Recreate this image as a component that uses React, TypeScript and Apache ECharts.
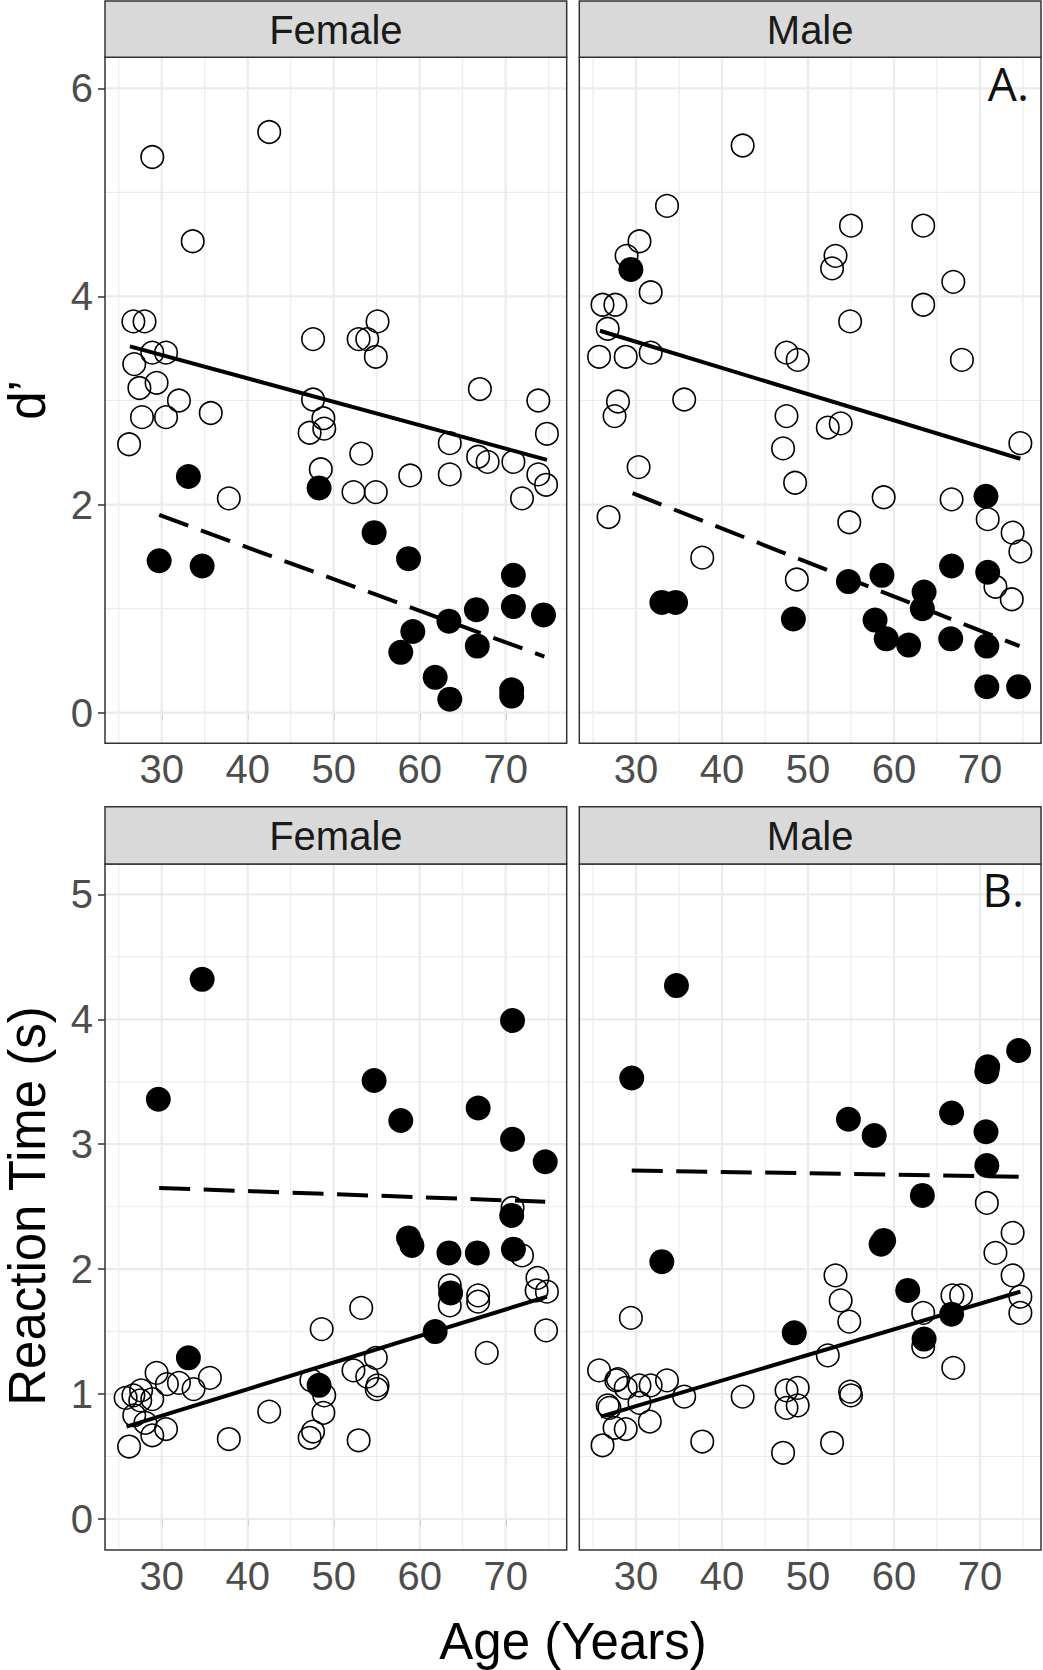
import React, { useEffect, useRef } from "react";
import * as echarts from "echarts";

// ---------- axes ----------
const ageTicks = [30, 40, 50, 60, 70];
const ageMinorGrid = [25, 35, 45, 55, 65, 75];
const ageRange = [23.4, 77.1];
const dPrimeTicks = [0, 2, 4, 6];
const dPrimeMinorGrid = [1, 3, 5];
const dPrimeRange = [-0.294, 6.298];
const rtTicks = [0, 1, 2, 3, 4, 5];
const rtMinorGrid = [0.5, 1.5, 2.5, 3.5, 4.5];
const rtRange = [-0.248, 5.243];
const panelTitles = ["Female", "Male"];

// ---------- Female d' ----------
const femaleDOpenAge = [28.9, 42.5, 33.6, 26.7, 28.0, 47.6, 52.9, 53.9, 55.1, 54.9, 28.9, 30.5, 26.8, 29.4, 27.4, 67.0, 32.0, 27.7, 30.5, 35.7, 26.2, 47.6, 48.8, 47.2, 48.9, 48.5, 53.2, 52.3, 54.9, 58.9, 37.8, 73.8, 74.8, 63.5, 63.5, 66.8, 67.9, 70.9, 73.8, 74.7, 71.9];
const femaleDOpenVal = [5.34, 5.58, 4.53, 3.76, 3.76, 3.59, 3.59, 3.59, 3.76, 3.42, 3.46, 3.46, 3.35, 3.17, 3.12, 3.11, 3.0, 2.84, 2.84, 2.88, 2.58, 3.01, 2.83, 2.69, 2.73, 2.34, 2.49, 2.12, 2.12, 2.28, 2.06, 3.0, 2.68, 2.59, 2.29, 2.46, 2.41, 2.41, 2.29, 2.19, 2.06];
const femaleDFilledAge = [33.1, 48.3, 29.7, 34.7, 54.7, 58.7, 70.9, 66.6, 70.9, 74.4, 63.4, 59.2, 57.8, 66.7, 61.8, 63.5, 70.7, 70.7];
const femaleDFilledVal = [2.27, 2.16, 1.46, 1.41, 1.73, 1.48, 1.32, 0.99, 1.02, 0.94, 0.88, 0.78, 0.58, 0.64, 0.34, 0.13, 0.22, 0.16];
const femaleDSolidFit = [[26.3, 3.52], [74.8, 2.43]];
const femaleDDashedFit = [[29.7, 1.9], [74.5, 0.54]];

// ---------- Male d' ----------
const maleDOpenAge = [42.4, 33.6, 30.4, 28.9, 31.7, 26.1, 27.6, 26.7, 25.7, 28.8, 31.7, 55.0, 63.4, 53.2, 52.8, 66.9, 63.4, 54.9, 47.5, 48.8, 67.9, 27.9, 27.5, 35.6, 47.5, 52.3, 53.8, 47.1, 48.5, 74.7, 30.3, 26.8, 37.7, 58.8, 66.7, 54.8, 70.9, 73.8, 74.7, 48.7, 71.8, 73.7];
const maleDOpenVal = [5.45, 4.87, 4.53, 4.39, 4.04, 3.92, 3.92, 3.69, 3.42, 3.42, 3.46, 4.68, 4.68, 4.39, 4.27, 4.14, 3.92, 3.76, 3.46, 3.39, 3.39, 2.99, 2.85, 3.01, 2.85, 2.74, 2.78, 2.54, 2.21, 2.59, 2.36, 1.88, 1.49, 2.07, 2.05, 1.83, 1.86, 1.73, 1.55, 1.28, 1.21, 1.09];
const maleDFilledAge = [29.4, 70.7, 33.0, 34.6, 48.3, 54.7, 58.6, 66.7, 70.9, 63.5, 63.3, 57.8, 59.1, 61.7, 66.6, 70.8, 70.8, 74.5];
const maleDFilledVal = [4.26, 2.08, 1.06, 1.06, 0.9, 1.26, 1.32, 1.41, 1.35, 1.16, 1.0, 0.89, 0.71, 0.65, 0.71, 0.64, 0.25, 0.25];
const maleDSolidFit = [[25.8, 3.67], [74.7, 2.44]];
const maleDDashedFit = [[29.6, 2.11], [74.6, 0.64]];

// ---------- Female reaction time ----------
const femaleRtOpenAge = [70.8, 71.9, 73.7, 74.8, 73.6, 74.7, 63.5, 63.5, 66.8, 66.8, 67.8, 53.2, 48.6, 54.9, 52.3, 53.9, 55.1, 55.0, 47.4, 48.9, 48.8, 47.6, 47.2, 52.9, 42.5, 37.8, 26.2, 30.5, 28.9, 28.1, 26.8, 25.8, 26.7, 27.6, 27.5, 28.9, 29.4, 30.6, 32.0, 33.7, 35.6];
const femaleRtOpenVal = [2.49, 2.11, 1.93, 1.82, 1.83, 1.51, 1.87, 1.71, 1.79, 1.74, 1.33, 1.69, 1.52, 1.29, 1.19, 1.14, 1.07, 1.04, 1.11, 0.99, 0.85, 0.7, 0.65, 0.63, 0.86, 0.64, 0.58, 0.72, 0.67, 0.77, 0.83, 0.97, 0.99, 1.03, 0.95, 0.96, 1.17, 1.08, 1.09, 1.04, 1.13];
const femaleRtFilledAge = [34.7, 29.6, 54.7, 57.8, 66.8, 70.8, 70.8, 74.6, 70.7, 58.7, 59.1, 63.4, 66.7, 70.9, 63.6, 61.8, 33.1, 48.3];
const femaleRtFilledVal = [4.32, 3.36, 3.51, 3.19, 3.29, 3.99, 3.04, 2.86, 2.43, 2.25, 2.19, 2.13, 2.13, 2.16, 1.81, 1.5, 1.29, 1.07];
const femaleRtSolidFit = [[25.9, 0.74], [74.8, 1.78]];
const femaleRtDashedFit = [[29.7, 2.65], [74.6, 2.54]];

// ---------- Male reaction time ----------
const maleRtOpenAge = [70.8, 73.8, 71.8, 73.8, 74.7, 74.7, 66.8, 67.8, 63.4, 63.4, 66.9, 53.2, 53.8, 54.8, 52.3, 48.4, 54.9, 55.0, 47.5, 48.8, 47.5, 48.8, 47.1, 52.8, 42.4, 37.7, 29.4, 25.7, 27.7, 27.9, 28.8, 30.4, 31.7, 33.6, 35.6, 26.7, 26.9, 30.4, 27.5, 28.8, 31.6, 26.1];
const maleRtOpenVal = [2.53, 2.29, 2.13, 1.95, 1.78, 1.65, 1.79, 1.79, 1.65, 1.38, 1.21, 1.95, 1.75, 1.58, 1.31, 1.49, 1.02, 0.99, 1.03, 1.05, 0.89, 0.91, 0.53, 0.61, 0.98, 0.62, 1.61, 1.19, 1.11, 1.12, 1.05, 1.07, 1.07, 1.11, 0.98, 0.91, 0.89, 0.93, 0.73, 0.72, 0.78, 0.59];
const maleRtFilledAge = [34.7, 29.5, 54.7, 57.7, 66.7, 70.9, 70.8, 74.5, 70.7, 70.8, 63.3, 58.8, 58.5, 61.6, 66.7, 63.5, 48.4, 33.0];
const maleRtFilledVal = [4.27, 3.53, 3.2, 3.07, 3.25, 3.62, 3.58, 3.75, 3.1, 2.83, 2.59, 2.23, 2.2, 1.83, 1.64, 1.44, 1.49, 2.06];
const maleRtSolidFit = [[25.9, 0.82], [74.7, 1.82]];
const maleRtDashedFit = [[29.5, 2.79], [74.5, 2.74]];

// ---------- layout ----------
const FONT = '"Liberation Sans", Arial, Helvetica, sans-serif';
const GRID_W = 461.7;
const GRID_H = 686;
const LEFT_X = [105, 579.3];
const TOP_Y = [57.3, 864];
const STRIP_TOP = [1, 806.7];

const zip = (a: number[], b: number[]) => a.map((v, i) => [v, b[i]]);

function gridLineData(xs: number[], ys: number[], xr: number[], yr: number[]) {
  const out: any[] = [];
  xs.forEach((x) => {
    out.push([x, yr[0]], [x, yr[1]], [null, null]);
  });
  ys.forEach((y) => {
    out.push([xr[0], y], [xr[1], y], [null, null]);
  });
  return out;
}

function buildOption() {
  const panels = [
    { open: zip(femaleDOpenAge, femaleDOpenVal), filled: zip(femaleDFilledAge, femaleDFilledVal), solid: femaleDSolidFit, dashed: femaleDDashedFit, yr: dPrimeRange, yt: dPrimeTicks, ym: dPrimeMinorGrid },
    { open: zip(maleDOpenAge, maleDOpenVal), filled: zip(maleDFilledAge, maleDFilledVal), solid: maleDSolidFit, dashed: maleDDashedFit, yr: dPrimeRange, yt: dPrimeTicks, ym: dPrimeMinorGrid },
    { open: zip(femaleRtOpenAge, femaleRtOpenVal), filled: zip(femaleRtFilledAge, femaleRtFilledVal), solid: femaleRtSolidFit, dashed: femaleRtDashedFit, yr: rtRange, yt: rtTicks, ym: rtMinorGrid },
    { open: zip(maleRtOpenAge, maleRtOpenVal), filled: zip(maleRtFilledAge, maleRtFilledVal), solid: maleRtSolidFit, dashed: maleRtDashedFit, yr: rtRange, yt: rtTicks, ym: rtMinorGrid },
  ];

  const grid: any[] = [];
  const xAxis: any[] = [];
  const yAxis: any[] = [];
  const series: any[] = [];
  const graphic: any[] = [];

  panels.forEach((p, i) => {
    const col = i % 2;
    const row = Math.floor(i / 2);
    const left = LEFT_X[col];
    const top = TOP_Y[row];
    grid.push({ left, top, width: GRID_W, height: GRID_H, show: false });
    xAxis.push({
      type: "value",
      gridIndex: i,
      min: ageRange[0],
      max: ageRange[1],
      axisLine: { show: false },
      splitLine: { show: false },
      axisTick: { show: true, customValues: ageTicks, length: 7, lineStyle: { color: "#333333", width: 1.5 } },
      axisLabel: { show: true, customValues: ageTicks, fontSize: 40, fontFamily: FONT, color: "#4D4D4D", margin: 6 },
    });
    yAxis.push({
      type: "value",
      gridIndex: i,
      min: p.yr[0],
      max: p.yr[1],
      axisLine: { show: false },
      splitLine: { show: false },
      axisTick: { show: col === 0, customValues: p.yt, length: 7, lineStyle: { color: "#333333", width: 1.5 } },
      axisLabel: { show: col === 0, customValues: p.yt, fontSize: 40, fontFamily: FONT, color: "#4D4D4D", margin: 12 },
    });

    series.push({
      type: "line",
      xAxisIndex: i,
      yAxisIndex: i,
      data: gridLineData(ageMinorGrid, p.ym, ageRange, p.yr),
      showSymbol: false,
      symbol: "none",
      silent: true,
      connectNulls: false,
      lineStyle: { color: "#EBEBEB", width: 1.1 },
      z: 1,
    });
    series.push({
      type: "line",
      xAxisIndex: i,
      yAxisIndex: i,
      data: gridLineData(ageTicks, p.yt, ageRange, p.yr),
      showSymbol: false,
      symbol: "none",
      silent: true,
      connectNulls: false,
      lineStyle: { color: "#EBEBEB", width: 2.2 },
      z: 1,
    });
    series.push({
      type: "scatter",
      xAxisIndex: i,
      yAxisIndex: i,
      data: p.open,
      symbol: "circle",
      symbolSize: 22.5,
      itemStyle: { color: "rgba(0,0,0,0)", borderColor: "#000000", borderWidth: 1.6, opacity: 1 },
      z: 3,
    });
    series.push({
      type: "scatter",
      xAxisIndex: i,
      yAxisIndex: i,
      data: p.filled,
      symbol: "circle",
      symbolSize: 25,
      itemStyle: { color: "#000000", opacity: 1 },
      z: 4,
    });
    series.push({
      type: "line",
      xAxisIndex: i,
      yAxisIndex: i,
      data: p.solid,
      showSymbol: false,
      symbol: "none",
      lineStyle: { color: "#000000", width: 4, cap: "butt", opacity: 1 },
      z: 5,
    });
    series.push({
      type: "line",
      xAxisIndex: i,
      yAxisIndex: i,
      data: p.dashed,
      showSymbol: false,
      symbol: "none",
      lineStyle: { color: "#000000", width: 4, type: [31, 13.5], cap: "butt", opacity: 1 },
      z: 5,
    });

    // panel border
    graphic.push({
      type: "rect",
      shape: { x: left, y: top, width: GRID_W, height: GRID_H },
      style: { fill: "none", stroke: "#333333", lineWidth: 1.5 },
      z: 100,
      silent: true,
    });
    // strip
    const sTop = STRIP_TOP[row];
    graphic.push({
      type: "rect",
      shape: { x: left, y: sTop, width: GRID_W, height: top - sTop },
      style: { fill: "#D9D9D9", stroke: "#333333", lineWidth: 1.5 },
      z: 100,
      silent: true,
    });
    graphic.push({
      type: "text",
      x: left + GRID_W / 2,
      y: (sTop + top) / 2 + 1,
      style: { text: panelTitles[col], fontSize: 40, fontFamily: FONT, fill: "#1A1A1A", align: "center", verticalAlign: "middle" },
      z: 101,
      silent: true,
    });
  });

  graphic.push(
    {
      type: "text",
      x: 1029,
      y: 83,
      style: { text: "A.", fontSize: 46, fontFamily: '"Open Sans", "Noto Sans", sans-serif', fill: "#111111", align: "right", verticalAlign: "middle" },
      z: 101,
      silent: true,
    },
    {
      type: "text",
      x: 1024,
      y: 889,
      style: { text: "B.", fontSize: 46, fontFamily: '"Open Sans", "Noto Sans", sans-serif', fill: "#111111", align: "right", verticalAlign: "middle" },
      z: 101,
      silent: true,
    },
    {
      type: "text",
      x: 573,
      y: 1641,
      style: { text: "Age (Years)", fontSize: 51, fontFamily: FONT, fill: "#000000", align: "center", verticalAlign: "middle" },
      z: 101,
      silent: true,
    },
    {
      type: "text",
      x: 27,
      y: 400,
      rotation: Math.PI / 2,
      style: { text: "d’", fontSize: 51, fontFamily: FONT, fill: "#000000", align: "center", verticalAlign: "middle" },
      z: 101,
      silent: true,
    },
    {
      type: "text",
      x: 27,
      y: 1206,
      rotation: Math.PI / 2,
      style: { text: "Reaction Time (s)", fontSize: 51, fontFamily: FONT, fill: "#000000", align: "center", verticalAlign: "middle" },
      z: 101,
      silent: true,
    }
  );

  return {
    animation: false,
    backgroundColor: "#FFFFFF",
    grid,
    xAxis,
    yAxis,
    series,
    graphic,
  };
}

export default function App() {
  const ref = useRef<HTMLDivElement>(null);
  useEffect(() => {
    if (!ref.current) return;
    const chart = echarts.init(ref.current, null, { renderer: "svg" });
    chart.setOption(buildOption() as any);
    return () => {
      chart.dispose();
    };
  }, []);
  return (
    <div
      ref={ref}
      style={{ position: "absolute", left: 0, top: 0, width: 1043, height: 1670, background: "#FFFFFF" }}
    />
  );
}
